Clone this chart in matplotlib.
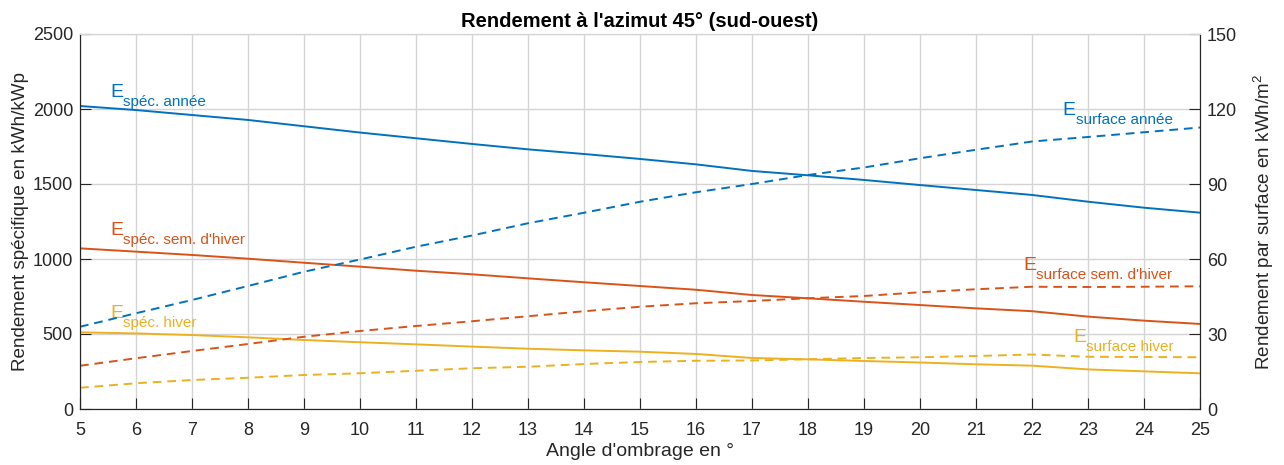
import numpy as np
import matplotlib
matplotlib.use('Agg')
import matplotlib.pyplot as plt

plt.rcParams['font.family'] = ['Liberation Sans', 'DejaVu Sans']
plt.rcParams['mathtext.fontset'] = 'custom'
plt.rcParams['mathtext.rm'] = 'Liberation Sans'

# Data
angle = [5, 6, 7, 8, 9, 10, 11, 12, 13, 14, 15, 16, 17, 18, 19, 20, 21, 22, 23, 24, 25]
spec_annee = [2020, 1993, 1960, 1927, 1885, 1843, 1805, 1767, 1731, 1700, 1667,
              1631, 1587, 1558, 1527, 1493, 1460, 1427, 1382, 1342, 1309]
spec_sem_hiver = [1071, 1049, 1027, 1002, 975, 949, 922, 898, 871, 845, 820,
                  795, 760, 738, 715, 693, 671, 652, 616, 589, 567]
spec_hiver = [511, 504, 493, 478, 460, 445, 431, 416, 402, 391, 382,
              367, 340, 331, 320, 310, 298, 289, 264, 251, 238]
surf_annee = [32.9, 38.3, 43.6, 49.2, 54.9, 59.8, 64.9, 69.4, 74.3, 78.5, 82.9,
              86.7, 90.0, 93.6, 96.6, 100.3, 103.7, 107.0, 108.8, 110.7, 112.6]
surf_sem_hiver = [17.3, 20.3, 23.2, 26.0, 28.9, 31.2, 33.2, 35.1, 37.1, 39.1, 40.9,
                  42.3, 43.2, 44.3, 45.2, 46.7, 47.9, 48.9, 48.8, 48.9, 49.1]
surf_hiver = [8.5, 10.3, 11.6, 12.5, 13.6, 14.3, 15.3, 16.3, 16.9, 18.0, 18.8,
              19.3, 19.4, 19.9, 20.4, 20.7, 21.2, 21.8, 20.9, 20.8, 20.7]

blue = '#0072BD'
orange = '#D95319'
yellow = '#EDB120'
axcol = '#262626'
gridcol = '#d4d4d4'
dash = (0, (4.5, 3))

fig = plt.figure(figsize=(12.84, 4.65), dpi=100)
ax = fig.add_axes([80 / 1284, 56 / 465, 1120 / 1284, 375 / 465])
ax2 = ax.twinx()

ax.plot(angle, spec_annee, color=blue, lw=1.4)
ax.plot(angle, spec_sem_hiver, color=orange, lw=1.4)
ax.plot(angle, spec_hiver, color=yellow, lw=1.4)
ax2.plot(angle, surf_annee, color=blue, lw=1.4, linestyle=dash)
ax2.plot(angle, surf_sem_hiver, color=orange, lw=1.4, linestyle=dash)
ax2.plot(angle, surf_hiver, color=yellow, lw=1.4, linestyle=dash)

ax.set_xlim(5, 25)
ax.set_ylim(0, 2500)
ax2.set_ylim(0, 150)
ax.set_xticks(range(5, 26))
ax.set_yticks(range(0, 2501, 500))
ax2.set_yticks(range(0, 151, 30))

ax.grid(True, color=gridcol, lw=1.0)
ax.set_axisbelow(True)

for a in (ax, ax2):
    a.tick_params(direction='in', length=8, width=0.8, colors=axcol,
                  labelsize=13, pad=5)
    for s in a.spines.values():
        s.set_color(axcol)
        s.set_linewidth(0.8)
    a.spines['top'].set_color(gridcol)
ax.tick_params(axis='x', pad=9)

ax.set_xlabel("Angle d'ombrage en °", fontsize=14, color=axcol, labelpad=3)
ax.set_ylabel('Rendement spécifique en kWh/kWp', fontsize=13.6, color=axcol, labelpad=3)
ax2.set_ylabel('Rendement par surface en kWh/m$^2$', fontsize=13.6, color=axcol,
               rotation=90, labelpad=10)
ax.set_title("Rendement à l'azimut 45° (sud-ouest)", fontsize=14.5, fontweight='bold',
             color='black', pad=5)


def label(a, x, y, sub, color):
    a.text(x, y, 'E', fontsize=14, color=color, ha='left', va='baseline')
    a.annotate(sub, xy=(x, y), xytext=(9.3, -6.5), textcoords='offset points',
               fontsize=11, color=color, ha='left', va='baseline')


label(ax, 5.54, 2080, 'spéc. année', blue)
label(ax, 5.54, 1160, "spéc. sem. d'hiver", orange)
label(ax, 5.54, 607, 'spéc. hiver', yellow)
label(ax2, 22.55, 117.6, 'surface année', blue)
label(ax2, 21.84, 55.6, "surface sem. d'hiver", orange)
label(ax2, 22.73, 26.9, 'surface hiver', yellow)

plt.savefig('out.png', dpi=100)
plt.close()
